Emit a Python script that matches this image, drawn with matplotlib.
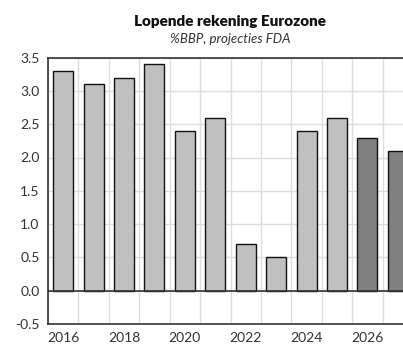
import numpy as np
import matplotlib.pyplot as plt

years = [2016, 2017, 2018, 2019, 2020, 2021, 2022, 2023, 2024, 2025, 2026, 2027]
values = [3.3, 3.1, 3.2, 3.4, 2.4, 2.6, 0.7, 0.5, 2.4, 2.6, 2.3, 2.1]
projected = [False] * 10 + [True] * 2
tick_years = [2016, 2018, 2020, 2022, 2024, 2026]

plt.rcParams['font.family'] = ['Lato', 'DejaVu Sans']

fig = plt.figure(figsize=(4.03, 3.49), dpi=100)
ax = fig.add_axes([48 / 403, 25 / 349, 365 / 403, 266.4 / 349])

x = np.arange(len(years))
colors = ['#808080' if p else '#c0c0c0' for p in projected]
ax.bar(x, values, width=0.66, color=colors, edgecolor='#111111', linewidth=1.0, zorder=3)

ax.set_xlim(-0.5, len(years) - 0.5)
ax.set_ylim(-0.5, 3.5)
ax.set_yticks(np.arange(-0.5, 3.51, 0.5))
ax.set_yticklabels([f'{v:.1f}' for v in np.arange(-0.5, 3.51, 0.5)])
ax.set_xticks([years.index(y) for y in tick_years])
ax.set_xticklabels([str(y) for y in tick_years])
ax.set_xticks(np.arange(-0.5, len(years), 1), minor=True)

ax.grid(axis='y', color='#dddddd', linewidth=1, zorder=0)
ax.grid(axis='x', which='minor', color='#dddddd', linewidth=1, zorder=0)
ax.axhline(0, color='#333333', linewidth=1.2, zorder=4)

ax.tick_params(which='both', length=0, labelsize=10, colors='#333333', pad=6)
for s in ['left', 'bottom', 'top']:
    ax.spines[s].set_color('#333333')
    ax.spines[s].set_linewidth(1.2)
ax.spines['right'].set_visible(False)

fig.text(230 / 403, 1 - 22 / 349, 'Lopende rekening Eurozone', ha='center', va='center',
         fontsize=11, fontweight='heavy', color='#111111')
fig.text(230 / 403, 1 - 39 / 349, '%BBP, projecties FDA', ha='center', va='center',
         fontsize=9.5, style='italic', color='#333333')

fig.savefig('out.png', dpi=100)
